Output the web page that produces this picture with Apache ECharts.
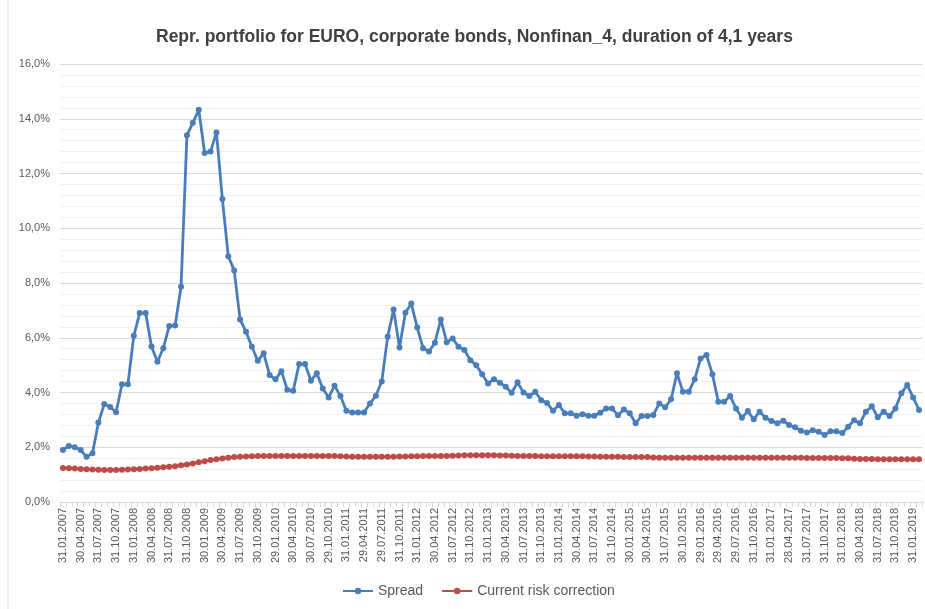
<!DOCTYPE html>
<html>
<head>
<meta charset="utf-8">
<script src="https://cdn.jsdelivr.net/npm/echarts@6/dist/echarts.min.js"></script>
<style>
html,body{margin:0;padding:0;background:#fff;}
#chart{width:925px;height:609px;}
</style>
</head>
<body>
<div id="chart"></div>
<script>
// Tick labels shown on the category axis (every third month)
var tickLabels = ["31.01.2007","30.04.2007","31.07.2007","31.10.2007","31.01.2008","30.04.2008","31.07.2008","31.10.2008",
"30.01.2009","30.04.2009","31.07.2009","30.10.2009","29.01.2010","30.04.2010","30.07.2010","29.10.2010",
"31.01.2011","29.04.2011","29.07.2011","31.10.2011","31.01.2012","30.04.2012","31.07.2012","31.10.2012",
"31.01.2013","30.04.2013","31.07.2013","31.10.2013","31.01.2014","30.04.2014","31.07.2014","31.10.2014",
"30.01.2015","30.04.2015","31.07.2015","30.10.2015","29.01.2016","29.04.2016","29.07.2016","31.10.2016",
"31.01.2017","28.04.2017","31.07.2017","31.10.2017","31.01.2018","30.04.2018","31.07.2018","31.10.2018",
"31.01.2019"];

// Spread (%), monthly Jan 2007 - Feb 2019
var spread = [
1.90,2.05,2.00,1.90,1.65,1.78,2.90,3.58,3.47,3.28,4.30,4.30,
6.07,6.90,6.90,5.68,5.12,5.62,6.43,6.45,7.86,13.40,13.85,14.33,
12.75,12.80,13.50,11.07,8.98,8.46,6.67,6.22,5.67,5.16,5.43,4.64,
4.48,4.78,4.10,4.06,5.04,5.04,4.43,4.70,4.15,3.82,4.25,3.87,
3.33,3.27,3.27,3.27,3.60,3.88,4.40,6.04,7.03,5.64,6.91,7.25,
6.37,5.62,5.50,5.82,6.67,5.84,5.97,5.67,5.55,5.18,5.00,4.67,
4.33,4.48,4.36,4.21,3.99,4.37,4.00,3.87,4.03,3.72,3.62,3.33,
3.54,3.24,3.24,3.15,3.21,3.15,3.15,3.26,3.42,3.42,3.17,3.38,
3.24,2.88,3.14,3.14,3.18,3.60,3.46,3.75,4.70,4.03,4.03,4.48,
5.24,5.37,4.67,3.66,3.66,3.87,3.42,3.08,3.32,3.02,3.30,3.08,
2.96,2.88,2.97,2.81,2.73,2.60,2.54,2.62,2.57,2.45,2.58,2.58,
2.52,2.75,2.99,2.88,3.30,3.50,3.10,3.30,3.14,3.42,3.97,4.27,
3.82,3.36];

// Current risk correction (%)
var riskCorrection = [
1.24,1.23,1.22,1.21,1.20,1.19,1.18,1.17,1.17,1.17,1.18,1.19,
1.20,1.21,1.22,1.23,1.25,1.27,1.29,1.31,1.34,1.37,1.41,1.45,
1.49,1.53,1.56,1.59,1.62,1.64,1.65,1.66,1.67,1.68,1.68,1.68,
1.68,1.68,1.68,1.68,1.68,1.68,1.68,1.68,1.68,1.68,1.68,1.67,
1.66,1.65,1.65,1.65,1.65,1.65,1.65,1.65,1.65,1.66,1.66,1.67,
1.67,1.68,1.68,1.68,1.68,1.68,1.69,1.70,1.71,1.71,1.71,1.71,
1.71,1.71,1.70,1.70,1.69,1.68,1.68,1.68,1.68,1.67,1.67,1.67,
1.67,1.67,1.67,1.67,1.67,1.66,1.66,1.65,1.65,1.65,1.65,1.64,
1.64,1.64,1.64,1.64,1.63,1.62,1.62,1.62,1.62,1.62,1.62,1.62,
1.62,1.62,1.62,1.62,1.62,1.62,1.62,1.62,1.62,1.62,1.62,1.62,
1.62,1.62,1.62,1.62,1.62,1.62,1.61,1.61,1.61,1.61,1.61,1.61,
1.60,1.60,1.58,1.57,1.57,1.57,1.56,1.56,1.56,1.56,1.56,1.56,
1.56,1.56];

var seriesNames = ["Spread","Current risk correction"];
var titleText = "Repr. portfolio for EURO, corporate bonds, Nonfinan_4, duration of 4,1 years";

// Build monthly categories (last weekday of each month); every third one is a tick label
function pad(n){return (n<10?'0':'')+n;}
var categories = [];
for (var i = 0; i < spread.length; i++) {
  if (i % 3 === 0 && tickLabels[i/3]) { categories.push(tickLabels[i/3]); continue; }
  var y = 2007 + Math.floor(i/12), m = i % 12;
  var d = new Date(Date.UTC(y, m+1, 0));
  while (d.getUTCDay() === 0 || d.getUTCDay() === 6) d.setUTCDate(d.getUTCDate()-1);
  categories.push(pad(d.getUTCDate())+'.'+pad(d.getUTCMonth()+1)+'.'+d.getUTCFullYear());
}

var chart = echarts.init(document.getElementById('chart'), null, {renderer:'canvas'});
var font = 'Liberation Sans, Arial, sans-serif';
chart.setOption({
  backgroundColor:'#ffffff',
  animation:false,
  title:{
    text:titleText, left:151, top:23,
    textStyle:{fontFamily:font, fontSize:17.5, fontWeight:'bold', color:'#404040'}
  },
  graphic:[{type:'rect', shape:{x:8, y:-5, width:1000, height:700}, style:{fill:'none', stroke:'#d9d9d9', lineWidth:1}, silent:true}],
  legend:{
    bottom:6, left:337, itemWidth:30, itemHeight:8, itemGap:18,
    textStyle:{fontFamily:font, fontSize:14, color:'#595959'},
    data:seriesNames
  },
  grid:{left:60, right:3, top:64, bottom:107, containLabel:false},
  xAxis:{
    type:'category', data:categories, boundaryGap:true,
    axisLine:{lineStyle:{color:'#d9d9d9', width:1}},
    axisTick:{show:true, interval:0, length:5, lineStyle:{color:'#d9d9d9'}},
    axisLabel:{interval:2, rotate:90, fontFamily:font, fontSize:11, color:'#595959', margin:6}
  },
  yAxis:{
    type:'value', min:0, max:16, interval:2,
    axisLine:{show:false}, axisTick:{show:false},
    axisLabel:{fontFamily:font, fontSize:11, color:'#595959', margin:10,
      formatter:function(v){return v.toFixed(1).replace('.',',')+'%';}},
    splitLine:{lineStyle:{color:'#d9d9d9', width:1}},
    minorTick:{show:false, splitNumber:5},
    minorSplitLine:{show:true, lineStyle:{color:'#f0f0f0', width:1}}
  },
  series:[
    {name:seriesNames[0], type:'line', data:spread, symbol:'circle', symbolSize:6, showAllSymbol:true,
     itemStyle:{color:'#4a7ebb'}, lineStyle:{color:'#4a7ebb', width:2.8}, z:3},
    {name:seriesNames[1], type:'line', data:riskCorrection, symbol:'circle', symbolSize:6, showAllSymbol:true,
     itemStyle:{color:'#be4b48'}, lineStyle:{color:'#be4b48', width:2.8}, z:2}
  ]
});
</script>
</body>
</html>
